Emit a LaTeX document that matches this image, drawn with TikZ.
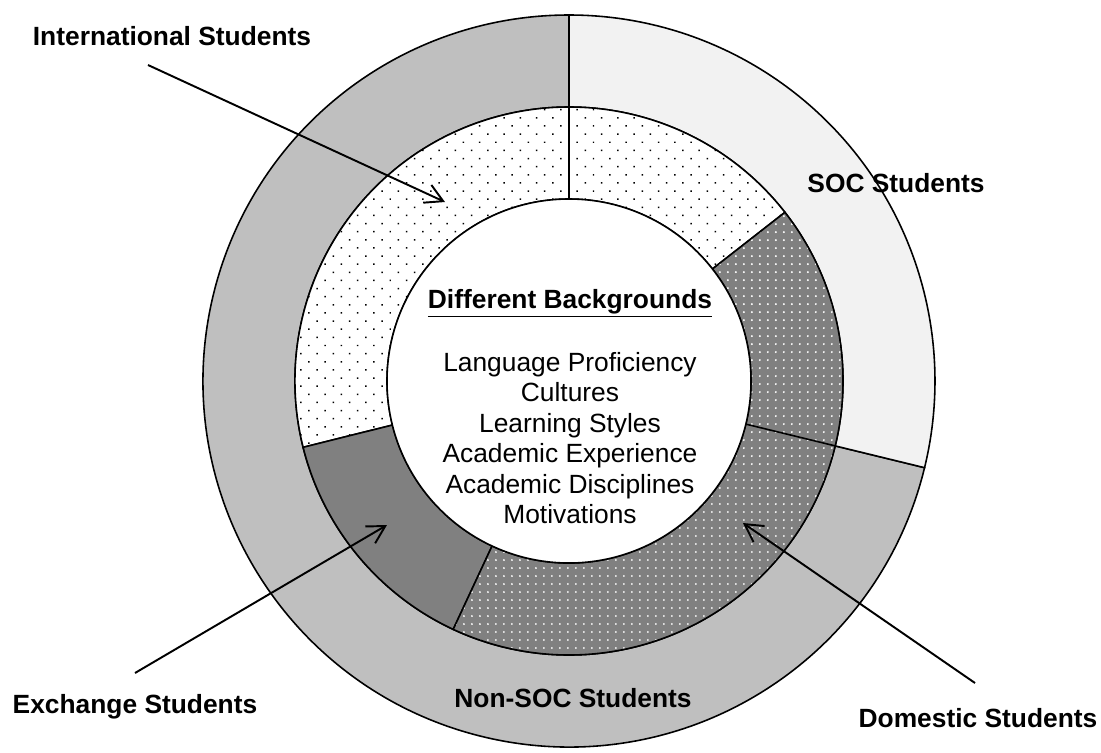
\documentclass[tikz,border=0pt]{standalone}
\usepackage{fontspec}
\setmainfont{Liberation Sans}
\usetikzlibrary{patterns.meta,arrows.meta}

\begin{document}
\begin{tikzpicture}[x=0.02cm,y=0.02cm]
    % Define styles
    \tikzset{
        ring/.style={draw=black, line width=0.9pt},
        soc/.style={ring, fill=black!5},
        nonsoc/.style={ring, fill=black!25},
        intl/.style={ring, preaction={fill=white}, pattern={Dots[distance=2.3mm, angle=45, radius=0.6pt]}, pattern color=black},
        exch/.style={ring, fill=black!50},
        dom/.style={ring, preaction={fill=black!50}, pattern={Dots[distance=1.6mm, radius=0.6pt]}, pattern color=white},
        tag/.style={font=\fontsize{15pt}{17.3pt}\selectfont\bfseries, anchor=base, inner sep=0pt},
        body/.style={font=\fontsize{15pt}{17.3pt}\selectfont, align=center, inner sep=0pt},
        pointer/.style={-{Straight Barb[length=3.5mm, width=3.9mm]}, line width=1.1pt}
    }
    \useasboundingbox (-569,-371) rectangle (532,381);

    % Outer ring
    \path[nonsoc] (90:274) arc[start angle=90, end angle=346.3, radius=274] -- (346.3:366) arc[start angle=346.3, end angle=90, radius=366] -- cycle;
    \path[soc] (-13.7:274) arc[start angle=-13.7, end angle=90, radius=274] -- (90:366) arc[start angle=90, end angle=-13.7, radius=366] -- cycle;

    % Inner ring
    \path[intl] (38:182) arc[start angle=38, end angle=194, radius=182] -- (194:274) arc[start angle=194, end angle=38, radius=274] -- cycle;
    \path[exch] (194:182) arc[start angle=194, end angle=245, radius=182] -- (245:274) arc[start angle=245, end angle=194, radius=274] -- cycle;
    \path[dom] (245:182) arc[start angle=245, end angle=398, radius=182] -- (398:274) arc[start angle=398, end angle=245, radius=274] -- cycle;
    \draw[ring] (90:182) -- (90:274);
    \draw[ring] (-13.7:182) -- (-13.7:274);
    \draw[ring, fill=white] (0,0) circle[radius=182];

    % Nodes
    \node[tag] (heading) at (1,73) {\underline{Different Backgrounds}};
    \node[body, anchor=north] (topics) at (1,29) {Language Proficiency\\Cultures\\Learning Styles\\Academic Experience\\Academic Disciplines\\Motivations};
    \node[tag] (soc_label) at (327,189) {SOC Students};
    \node[tag] (nonsoc_label) at (4,-326) {Non-SOC Students};
    \node[tag] (intl_label) at (-397,336) {International Students};
    \node[tag] (exch_label) at (-434,-332) {Exchange Students};
    \node[tag] (dom_label) at (409,-346) {Domestic Students};

    % Arrows
    \coordinate (intl_tail) at (-421,316);
    \coordinate (intl_tip) at (-124,179);
    \coordinate (exch_tail) at (-434,-292);
    \coordinate (exch_tip) at (-182,-144);
    \coordinate (dom_tail) at (406,-302);
    \coordinate (dom_tip) at (174,-142);
    \draw[pointer] (intl_tail) -- (intl_tip);
    \draw[pointer] (exch_tail) -- (exch_tip);
    \draw[pointer] (dom_tail) -- (dom_tip);
\end{tikzpicture}
\end{document}
